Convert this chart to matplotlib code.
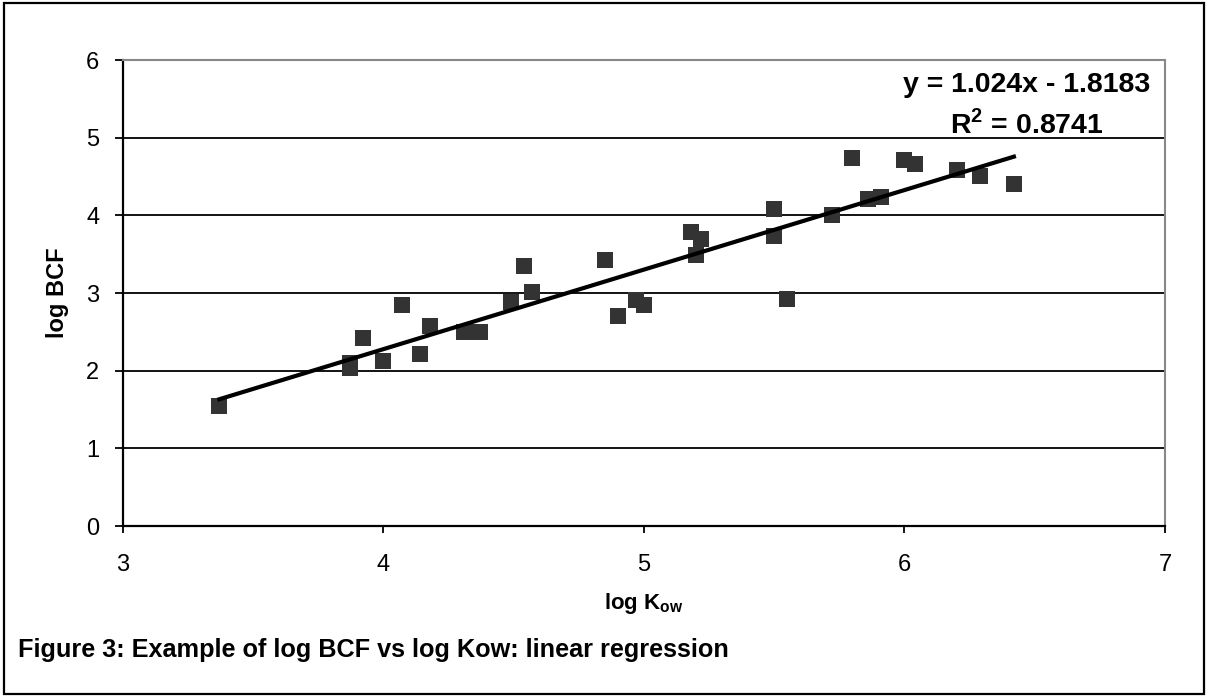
import numpy as np
import matplotlib
matplotlib.use('Agg')
import matplotlib.pyplot as plt
from matplotlib.patches import Rectangle

plt.rcParams['font.family'] = ['Liberation Sans', 'DejaVu Sans']
plt.rcParams['mathtext.fontset'] = 'custom'
plt.rcParams['mathtext.rm'] = 'Liberation Sans'
plt.rcParams['mathtext.bf'] = 'Liberation Sans:bold'

# data
log_kow = [3.37, 3.87, 3.87, 3.92, 4.00, 4.07, 4.14, 4.18, 4.31, 4.37, 4.49,
           4.54, 4.57, 4.85, 4.90, 4.97, 5.00, 5.18, 5.20, 5.22, 5.50, 5.50,
           5.55, 5.72, 5.80, 5.86, 5.91, 6.00, 6.04, 6.20, 6.29, 6.42]
log_bcf = [1.54, 2.10, 2.03, 2.42, 2.13, 2.85, 2.21, 2.58, 2.50, 2.50, 2.88,
           3.35, 3.01, 3.43, 2.70, 2.91, 2.84, 3.78, 3.49, 3.69, 4.08, 3.74,
           2.92, 4.00, 4.74, 4.21, 4.23, 4.71, 4.66, 4.58, 4.51, 4.40]
slope = 1.024
intercept = -1.8183
r_squared = 0.8741
x_ticks = [3, 4, 5, 6, 7]
y_ticks = [0, 1, 2, 3, 4, 5, 6]

W, H = 1208, 697
fig = plt.figure(figsize=(W / 100, H / 100), dpi=100)
ax = fig.add_axes([0.1018, 0.2453, 0.8626, 0.6686])

ax.scatter(log_kow, log_bcf, marker='s', s=120, color='#333333', zorder=3, linewidths=0)

x_fit = np.array([min(log_kow), max(log_kow)])
ax.plot(x_fit, slope * x_fit + intercept, color='black', lw=3.0, zorder=4)

ax.set_xlim(3, 7)
ax.set_ylim(0, 6)
ax.set_xticks(x_ticks)
ax.set_yticks(y_ticks)
ax.yaxis.grid(True, color='black', lw=1.3)
ax.set_axisbelow(True)

ax.tick_params(axis='both', labelsize=17, direction='out', color='black', width=1.3)
ax.tick_params(axis='x', length=5, pad=15)
ax.tick_params(axis='y', length=6, pad=11)

ax.spines['left'].set_linewidth(1.6)
ax.spines['bottom'].set_linewidth(1.6)
ax.spines['top'].set_color('#888888')
ax.spines['right'].set_color('#888888')
ax.spines['top'].set_linewidth(1.5)
ax.spines['right'].set_linewidth(1.5)

ax.set_xlabel(r'log K$_{\mathbf{ow}}$', fontsize=16, fontweight='bold', labelpad=11)
ax.set_ylabel('log BCF', fontsize=17, fontweight='bold', labelpad=12)

# regression equation, centred block at top right
fig.text(1027 / W, 1 - 92 / H, 'y = %.3fx - %.4f' % (slope, -intercept),
         ha='center', va='baseline', fontsize=20.5, fontweight='bold')
fig.text(1027 / W, 1 - 133 / H, r'R$^{\mathbf{2}}$ = %.4f' % r_squared,
         ha='center', va='baseline', fontsize=20.5, fontweight='bold')

fig.text(18 / W, 1 - 657 / H, 'Figure 3: Example of log BCF vs log Kow: linear regression',
         ha='left', va='baseline', fontsize=18.2, fontweight='bold')

fig.patches.append(Rectangle((4 / W, 3 / H), 1200 / W, 691 / H,
                             transform=fig.transFigure, fill=False,
                             edgecolor='black', lw=1.6))

fig.savefig('out.png', dpi=100)
